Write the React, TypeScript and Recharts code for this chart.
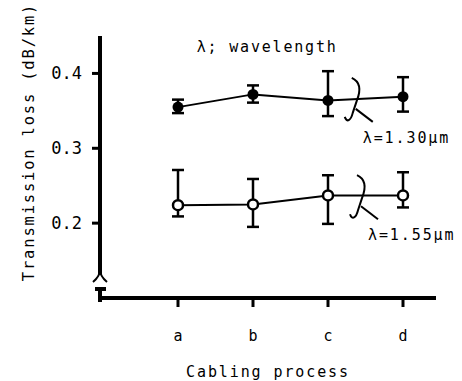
import {
  ComposedChart,
  Line,
  XAxis,
  YAxis,
  ErrorBar,
  ReferenceLine,
  ReferenceDot,
} from "recharts";

const FONT = "'DejaVu Sans Mono', monospace";

// cabling process steps, drawn at x = 1..4
const categories = ["a", "b", "c", "d"];
const positions = [1, 2, 3, 4];

// λ = 1.30 µm (filled circles)
const loss130 = [0.355, 0.372, 0.364, 0.369];
const err130 = [
  [0.008, 0.01],
  [0.011, 0.012],
  [0.021, 0.039],
  [0.02, 0.026],
];

// λ = 1.55 µm (open circles)
const loss155 = [0.224, 0.225, 0.237, 0.237];
const err155 = [
  [0.015, 0.047],
  [0.03, 0.034],
  [0.038, 0.027],
  [0.016, 0.031],
];

const yTicks = [0.2, 0.3, 0.4];

const data = positions.map((x, i) => ({
  x,
  v130: loss130[i],
  e130: err130[i],
  v155: loss155[i],
  e155: err155[i],
}));

const FilledDot = (p: any) => <circle cx={p.cx} cy={p.cy} r={5.5} fill="#000" />;
const OpenDot = (p: any) => (
  <circle cx={p.cx} cy={p.cy} r={5} fill="#fff" stroke="#000" strokeWidth={2.5} />
);

// brace + leader + wavelength label, placed at a data point
const Brace = (label: string) => (p: any) => {
  const { cx, cy } = p;
  return (
    <g>
      <path
        d={`M ${cx - 1} ${cy - 21} C ${cx + 8} ${cy - 17} ${cx + 8} ${cy - 8} ${cx + 4} ${cy + 2} L ${cx} ${cy + 14} C ${cx - 2} ${cy + 22} ${cx - 6} ${cy + 24} ${cx - 8} ${cy + 18}`}
        fill="none"
        stroke="#000"
        strokeWidth={2}
      />
      <path d={`M ${cx + 3} ${cy + 10} L ${cx + 20} ${cy + 23}`} stroke="#000" strokeWidth={2} />
      <text x={cx + 10} y={cy + 44} fontFamily={FONT} fontSize={15} letterSpacing={1.9} fill="#000">
        {label}
      </text>
    </g>
  );
};

const AxisBreak = (p: any) => {
  const { cx, cy } = p;
  return (
    <g stroke="#000" fill="none">
      <path d={`M ${cx - 7} ${cy + 2} Q ${cx} ${cy - 4} ${cx} ${cy - 10} Q ${cx} ${cy - 4} ${cx + 7} ${cy + 2}`} strokeWidth={2} />
      <path d={`M ${cx - 5} ${cy + 9} L ${cx + 6} ${cy + 9} M ${cx} ${cy + 9} L ${cx} ${cy + 22}`} strokeWidth={4} />
    </g>
  );
};

const Caption = (p: any) => (
  <text x={p.cx} y={p.cy} dominantBaseline="middle" fontFamily={FONT} fontSize={15} letterSpacing={1.8} fill="#000">
    λ; wavelength
  </text>
);

export default function App() {
  return (
    <div style={{ position: "absolute", left: 0, top: 0, background: "#fff" }}>
      <ComposedChart
        width={462}
        height={381}
        data={data}
        margin={{ top: 36, right: 26, bottom: 0, left: 0 }}
      >
        <XAxis
          type="number"
          dataKey="x"
          domain={[-0.04, 4.44]}
          ticks={positions}
          tickFormatter={(v: number) => categories[v - 1]}
          allowDataOverflow
          height={83}
          axisLine={{ stroke: "#000", strokeWidth: 4 }}
          tickLine={{ stroke: "#000", strokeWidth: 3 }}
          tickSize={9}
          tickMargin={23}
          tick={{ fill: "#000", fontFamily: FONT, fontSize: 15 }}
          label={{
            value: "Cabling process",
            position: "insideBottom",
            offset: 4,
            fill: "#000",
            fontFamily: FONT,
            fontSize: 15,
            letterSpacing: 1.9,
          }}
        />
        <YAxis
          type="number"
          domain={[0.1, 0.45]}
          ticks={yTicks}
          tickFormatter={(v: number) => v.toFixed(1)}
          allowDataOverflow
          width={100}
          axisLine={false}
          tickLine={{ stroke: "#000", strokeWidth: 3 }}
          tickSize={8}
          tickMargin={10}
          tick={{ fill: "#000", fontFamily: FONT, fontSize: 17 }}
          label={{
            value: "Transmission loss (dB/km)",
            angle: -90,
            position: "insideLeft",
            offset: 28,
            dy: -25,
            fill: "#000",
            fontFamily: FONT,
            fontSize: 15.5,
            letterSpacing: 1.8,
            style: { textAnchor: "middle" },
          }}
        />
        <ReferenceLine
          segment={[
            { x: -0.04, y: 0.45 },
            { x: -0.04, y: 0.131 },
          ]}
          stroke="#000"
          strokeWidth={4}
          ifOverflow="visible"
        />
        <ReferenceDot x={-0.04} y={0.124} ifOverflow="visible" shape={AxisBreak} />
        <ReferenceDot x={1.25} y={0.435} ifOverflow="visible" shape={Caption} />
        <ReferenceDot x={3.33} y={0.366} ifOverflow="visible" shape={Brace("λ=1.30μm")} />
        <ReferenceDot x={3.4} y={0.236} ifOverflow="visible" shape={Brace("λ=1.55μm")} />
        <Line
          dataKey="v130"
          stroke="#000"
          strokeWidth={2}
          dot={FilledDot}
          activeDot={false}
          isAnimationActive={false}
        >
          <ErrorBar dataKey="e130" width={6} stroke="#000" strokeWidth={2.5} direction="y" />
        </Line>
        <Line
          dataKey="v155"
          stroke="#000"
          strokeWidth={2}
          dot={OpenDot}
          activeDot={false}
          isAnimationActive={false}
        >
          <ErrorBar dataKey="e155" width={6} stroke="#000" strokeWidth={2.5} direction="y" />
        </Line>
      </ComposedChart>
    </div>
  );
}
